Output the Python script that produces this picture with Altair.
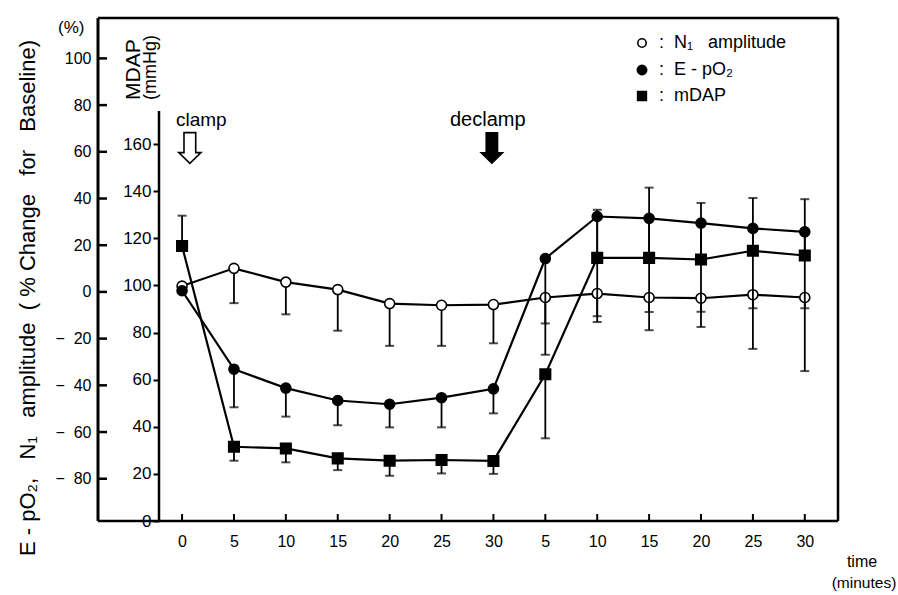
import json
import altair as alt
import pandas as pd

# ---------------- data ----------------
time_labels = ["0", "5", "10", "15", "20", "25", "30", "5", "10", "15", "20", "25", "30"]
time_idx = list(range(13))

# N1 amplitude (% change), open circles; end of error bar
n1_mean = [2.5, 10.1, 4.2, 1.0, -5.0, -5.7, -5.4, -2.4, -0.7, -2.4, -2.7, -1.2, -2.4]
n1_err = [None, -4.8, -9.6, -16.6, -23.1, -23.1, -22.0, -13.5, -10.4, -8.6, -8.5, -7.0, -7.0]

# E-pO2 (% change), filled circles
epo2_mean = [0.5, -33.1, -41.2, -46.5, -48.1, -45.3, -41.5, 14.3, 32.3, 31.5, 29.5, 27.2, 25.7]
epo2_err = [None, -49.4, -53.4, -57.1, -58.0, -58.0, -52.0, -26.9, -12.9, -16.4, -15.0, -24.4, -33.9]

# mDAP (mmHg), filled squares
mdap_mean = [116.7, 31.5, 30.8, 26.6, 25.6, 25.9, 25.5, 62.3, 111.7, 111.7, 111.0, 114.7, 112.7]
mdap_err = [129.6, 25.6, 24.9, 21.6, 19.2, 20.2, 20.0, 35.1, 132.1, 141.5, 135.0, 137.1, 136.6]

pct_ticks = [-80, -60, -40, -20, 0, 20, 40, 60, 80, 100]
mdap_ticks = [0, 20, 40, 60, 80, 100, 120, 140, 160]
mdap_axis_top = 174

pct_domain = [-98.1, 117.3]
mdap_domain = [0, 213.5]
x_domain = [-1.62, 12.64]

FONT = "Liberation Sans"
SP = "\u00a0"

# ---------------- tables ----------------
n1_df = pd.DataFrame({"idx": time_idx, "mean": n1_mean, "err": n1_err})
ep_df = pd.DataFrame({"idx": time_idx, "mean": epo2_mean, "err": epo2_err})
md_df = pd.DataFrame({"idx": time_idx, "mean": mdap_mean, "err": mdap_err})
pct_tick_df = pd.DataFrame({"t": pct_ticks})
xtick_df = pd.DataFrame({"idx": time_idx})
inner_axis_df = pd.DataFrame({"y0": [0], "y1": [mdap_axis_top]})

# ---------------- scales / axes ----------------
x_scale = alt.Scale(domain=x_domain, nice=False, zero=False)
x_axis = alt.Axis(values=time_idx,
                  labelExpr=f"{json.dumps(time_labels)}[datum.value]",
                  ticks=False, domain=False, grid=False, title=None,
                  labelFontSize=16, labelPadding=12, labelColor="black",
                  labelFont=FONT)

pct_scale = alt.Scale(domain=pct_domain, nice=False, zero=False)
pct_axis = alt.Axis(values=pct_ticks, ticks=False, domain=False, grid=False,
                    title=None, labelFontSize=16, labelPadding=7, labelColor="black",
                    labelFont=FONT, tickSize=0,
                    labelExpr="datum.value < 0 ? '\u2212\u00a0\u00a0' + (-datum.value) : '' + datum.value")

mdap_scale = alt.Scale(domain=mdap_domain, nice=False, zero=False)
mdap_axis = alt.Axis(values=mdap_ticks, orient="left", offset=-61, domain=False,
                     grid=False, title=None, ticks=True, tickSize=6, tickWidth=2,
                     tickColor="black", labelFontSize=17, labelPadding=2,
                     labelColor="black", labelFont=FONT)


def X(field="idx"):
    return alt.X(f"{field}:Q", scale=x_scale, axis=x_axis)


def YP(field):
    return alt.Y(f"{field}:Q", scale=pct_scale, axis=pct_axis)


def YM(field):
    return alt.Y(f"{field}:Q", scale=mdap_scale, axis=mdap_axis)


def series_layers(df, Yf, shape, fill):
    base = alt.Chart(df)
    bars = base.transform_filter("isValid(datum.err)").mark_rule(
        color="black", strokeWidth=1.8).encode(x=X(), y=Yf("mean"), y2="err")
    caps = base.transform_filter("isValid(datum.err)").mark_tick(
        color="black", orient="horizontal", size=9, thickness=2).encode(x=X(), y=Yf("err"))
    line = base.mark_line(color="black", strokeWidth=2.2).encode(x=X(), y=Yf("mean"))
    pts = base.mark_point(shape=shape, filled=True, fill=fill, stroke="black",
                          strokeWidth=1.6, opacity=1,
                          size=110 if shape == "square" else 100).encode(x=X(), y=Yf("mean"))
    return [bars, caps, line, pts]


# ---------------- percent group ----------------
outer_ticks = alt.Chart(pct_tick_df).mark_rule(color="black", strokeWidth=2.5).encode(
    y=YP("t"), x=alt.value(0), x2=alt.value(9))
x_ticks = alt.Chart(xtick_df).mark_rule(color="black", strokeWidth=2).encode(
    x=X(), y=alt.value(503), y2=alt.value(496))

pct_group = alt.layer(
    outer_ticks, x_ticks,
    *series_layers(n1_df, YP, "circle", "white"),
    *series_layers(ep_df, YP, "circle", "black"),
)

# ---------------- mmHg group ----------------
inner_axis_line = alt.Chart(inner_axis_df).mark_rule(color="black", strokeWidth=2.5).encode(
    x=alt.value(61), y=YM("y0"), y2="y1")
mdap_group = alt.layer(inner_axis_line, *series_layers(md_df, YM, "square", "black"))

# ---------------- annotations ----------------
one = pd.DataFrame({"a": [0]})


def label(text, x, y, size=17, angle=0, align="left", baseline="middle"):
    return alt.Chart(one).mark_text(text=text, font=FONT, fontSize=size, color="black",
                                    angle=angle, align=align, baseline=baseline).encode(
        x=alt.value(x), y=alt.value(y))


# plot frame (drawn explicitly so it is solid black)
frame = alt.layer(
    alt.Chart(one).mark_rule(color="black", strokeWidth=3).encode(
        x=alt.value(0), y=alt.value(0), y2=alt.value(503)),
    alt.Chart(one).mark_rule(color="black", strokeWidth=2.5).encode(
        x=alt.value(740), y=alt.value(0), y2=alt.value(503)),
    alt.Chart(one).mark_rule(color="black", strokeWidth=2.5).encode(
        y=alt.value(0), x=alt.value(0), x2=alt.value(740)),
    alt.Chart(one).mark_rule(color="black", strokeWidth=2.5).encode(
        y=alt.value(503), x=alt.value(0), x2=alt.value(740)),
)

arrow_path = "M -0.38 -1 L 0.38 -1 L 0.38 0.3 L 0.72 0.3 L 0 1 L -0.72 0.3 L -0.38 0.3 Z"
arrows_df = pd.DataFrame({"idx": [0.15, 5.97], "kind": ["clamp", "declamp"]})
clamp_arrow = alt.Chart(arrows_df).transform_filter("datum.kind == 'clamp'").mark_point(
    shape=arrow_path, size=950, filled=True, fill="white", stroke="black",
    strokeWidth=1.6, opacity=1).encode(x=X(), y=alt.value(130))
declamp_arrow = alt.Chart(arrows_df).transform_filter("datum.kind == 'declamp'").mark_point(
    shape=arrow_path, size=950, filled=True, fill="black", stroke="black",
    strokeWidth=1.2, opacity=1).encode(x=X(), y=alt.value(130))

legend_rows = [25, 52, 78]
leg_sym_open = alt.Chart(one).mark_point(shape="circle", filled=True, fill="white",
                                         stroke="black", strokeWidth=1.6, size=70,
                                         opacity=1).encode(x=alt.value(544), y=alt.value(legend_rows[0]))
leg_sym_fill = alt.Chart(one).mark_point(shape="circle", filled=True, fill="black",
                                         stroke="black", size=80,
                                         opacity=1).encode(x=alt.value(544), y=alt.value(legend_rows[1]))
leg_sym_sq = alt.Chart(one).mark_point(shape="square", filled=True, fill="black",
                                       stroke="black", size=70,
                                       opacity=1).encode(x=alt.value(544), y=alt.value(legend_rows[2]))

title_text = (f"E{SP}-{SP}pO\u2082,{SP*3}N\u2081{SP*3}amplitude{SP*2}({SP}%{SP}Change"
              f"{SP*3}for{SP*3}Baseline)")

annotations = alt.layer(
    clamp_arrow, declamp_arrow,
    label("clamp", 78, 102, size=19),
    label("declamp", 352, 102, size=20),
    label(f":{SP}{SP}N\u2081{SP*3}amplitude", 561, legend_rows[0], size=18),
    label(f":{SP}{SP}E{SP}-{SP}pO\u2082", 561, legend_rows[1], size=18),
    label(f":{SP}{SP}mDAP", 561, legend_rows[2], size=18),
    leg_sym_open, leg_sym_fill, leg_sym_sq,
    label("(%)", -40, 10, size=17),
    label("MDAP", 36, 82, size=21, angle=270, align="left"),
    label("(mmHg)", 53, 82, size=18, angle=270, align="left"),
    label(title_text, -70, 280, size=22, angle=270, align="center"),
    label("time", 764, 544, size=16, align="center"),
    label("(minutes)", 766, 565, size=15.5, align="center"),
)

chart = alt.layer(pct_group, mdap_group, annotations, frame).resolve_scale(
    y="independent"
).properties(
    width=740, height=503,
    background="white",
    autosize=alt.AutoSizeParams(type="none"),
    padding={"left": 98, "top": 18, "right": 60, "bottom": 74},
).configure_view(
    stroke=None
)

chart.save("out.html", embed_options={"renderer": "svg", "actions": False})
